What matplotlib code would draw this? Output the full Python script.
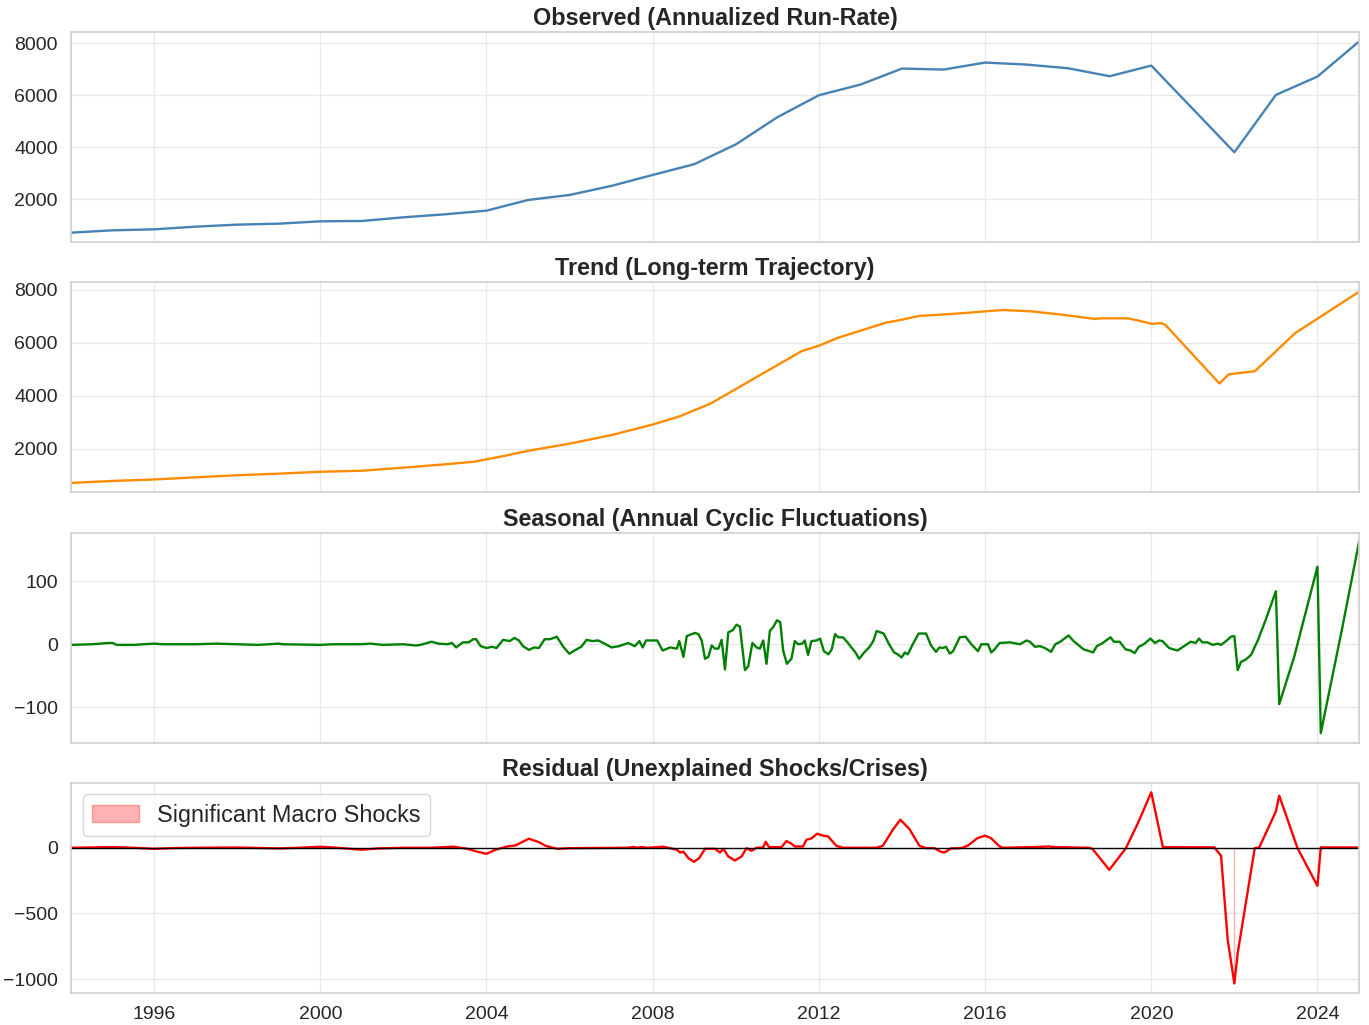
import matplotlib
matplotlib.use('Agg')
import matplotlib.pyplot as plt
import seaborn as sns
import numpy as np
from matplotlib.ticker import MultipleLocator, FuncFormatter

# ---------------- data (decimal years) ----------------
obs_years = [1994, 1995, 1996, 1997, 1998, 1999, 2000, 2001, 2002, 2003, 2004, 2005,
             2006, 2007, 2008, 2009, 2010, 2011, 2012, 2013, 2014, 2015, 2016, 2017,
             2018, 2019, 2020, 2021, 2022, 2023, 2024, 2025]
obs_values = [718, 808, 846, 949, 1026, 1064, 1154, 1167, 1308, 1423, 1564, 1974,
              2167, 2513, 2936, 3350, 4110, 5154, 6000, 6410, 7026, 6987, 7256, 7179,
              7038, 6731, 7141, 5475, 3808, 6013, 6718, 8064]

trend_years = [1994.0, 1995.0, 1996.0, 1997.0, 1998.0, 1999.0, 2000.0, 2001.0, 2002.0,
               2003.0, 2003.7, 2004.4, 2005.0, 2006.0, 2007.0, 2008.0, 2008.65, 2009.39,
               2011.59, 2012.0, 2012.46, 2013.62, 2013.89, 2014.41, 2015.42, 2016.0,
               2016.42, 2017.11, 2017.85, 2018.65, 2018.8, 2019.44, 2019.76, 2020.02,
               2020.23, 2020.34, 2021.64, 2021.87, 2022.49, 2022.62, 2023.46, 2025.0]
trend_values = [710, 785, 840, 920, 1000, 1060, 1130, 1170, 1285,
                1410, 1510, 1720, 1920, 2190, 2510, 2910, 3220, 3698,
                5681, 5880, 6180, 6753, 6828, 7002, 7102, 7177,
                7227, 7177, 7052, 6890, 6915, 6915, 6803, 6703,
                6740, 6666, 4459, 4808, 4920, 5107, 6354, 7913]

seas_years = [1994.0, 1994.5, 1994.9, 1995.0, 1995.1, 1995.5, 1996.0, 1996.2, 1997.0, 1997.5,
              1998.0, 1998.5, 1999.0, 1999.1, 2000.0, 2000.3, 2001.0, 2001.2, 2001.5, 2002.0,
              2002.3, 2002.41, 2002.68, 2002.84, 2003.06, 2003.17, 2003.27, 2003.43, 2003.57,
              2003.68, 2003.75, 2003.86, 2004.0, 2004.13, 2004.24, 2004.4, 2004.56, 2004.67,
              2004.78, 2004.88, 2005.02, 2005.15, 2005.26, 2005.4, 2005.53, 2005.69, 2005.85,
              2005.99, 2006.17, 2006.28, 2006.41, 2006.55, 2006.69, 2006.84, 2007.01, 2007.19,
              2007.41, 2007.57, 2007.68, 2007.76, 2007.84, 2008.11, 2008.24, 2008.42, 2008.58,
              2008.64, 2008.74, 2008.82, 2009.02, 2009.1, 2009.18, 2009.26, 2009.34, 2009.42,
              2009.5, 2009.58, 2009.66, 2009.74, 2009.82, 2009.92, 2010.02, 2010.1, 2010.22,
              2010.3, 2010.4, 2010.5, 2010.58, 2010.66, 2010.74, 2010.82, 2010.91, 2010.99,
              2011.07, 2011.14, 2011.23, 2011.34, 2011.42, 2011.5, 2011.6, 2011.66, 2011.74,
              2011.82, 2011.94, 2012.03, 2012.12, 2012.23, 2012.31, 2012.39, 2012.47, 2012.58,
              2012.69, 2012.77, 2012.87, 2012.97, 2013.09, 2013.21, 2013.31, 2013.39, 2013.56,
              2013.69, 2013.81, 2013.9, 2013.99, 2014.07, 2014.14, 2014.26, 2014.4, 2014.58,
              2014.7, 2014.82, 2014.9, 2014.98, 2015.06, 2015.15, 2015.23, 2015.39, 2015.53,
              2015.67, 2015.83, 2015.91, 2016.07, 2016.15, 2016.23, 2016.35, 2016.6, 2016.84,
              2017.0, 2017.08, 2017.2, 2017.32, 2017.44, 2017.59, 2017.69, 2017.81, 2018.01,
              2018.13, 2018.37, 2018.6, 2018.69, 2018.81, 2019.02, 2019.1, 2019.24, 2019.38,
              2019.5, 2019.6, 2019.7, 2019.82, 2019.98, 2020.09, 2020.19, 2020.27, 2020.43,
              2020.63, 2020.79, 2020.95, 2021.07, 2021.15, 2021.23, 2021.35, 2021.48, 2021.6,
              2021.68, 2021.8, 2021.92, 2022.0, 2022.08, 2022.16, 2022.28, 2022.4, 2022.57,
              2022.75, 2023.0, 2023.08, 2023.44, 2024.0, 2024.08, 2024.6, 2025.0]
seas_values = [-1, 0, 2, 2, -1, -1, 1, 0, 0, 1,
               0, -1, 1, 0, -1, 0, 0, 1, -1, 0,
               -2, -1, 4, 1, 0, 2, -5, 3, 3,
               8, 8, -3, -6, -4, -6, 7, 5, 10,
               6, -3, -9, -5, -6, 8, 8, 12, -4,
               -15, -8, -4, 7, 5, 6, 1, -5, -3,
               2, -3, 5, -5, 6, 6, -10, -5, -7,
               5, -20, 13, 18, 16, 6, -23, -20, -2,
               -7, -7, 7, -40, 19, 22, 31, 28, -41,
               -35, 2, -5, -7, 6, -31, 21, 28, 38,
               35, -10, -31, -23, 5, 0, 1, 6, -17,
               5, 6, 9, -11, -16, -8, 16, 11, 11,
               3, -4, -12, -23, -13, -5, 5, 21, 17,
               0, -13, -16, -21, -13, -16, 0, 17, 17,
               -2, -12, -5, -6, -4, -15, -11, 11, 12,
               0, -11, 0, 0, -13, -8, 2, 3, 0,
               6, 4, -4, -3, -6, -12, 0, 4, 14,
               5, -8, -13, -3, 1, 11, 4, 4, -8,
               -10, -14, -4, 0, 9, 2, 6, 5, -6,
               -10, -3, 4, 2, 9, 3, 3, -1, 1,
               -1, 5, 12, 13, -41, -28, -24, -17, 7,
               38, 84, -95, -20, 123, -141, 27, 162]

resid_years = [1994.0, 1995.0, 1995.5, 1996.0, 1996.5, 1997.0, 1998.0, 1999.0, 1999.5, 2000.0,
               2000.4, 2001.0, 2001.4, 2002.0, 2002.66, 2003.22, 2003.54, 2003.62, 2003.78,
               2004.0, 2004.22, 2004.5, 2004.7, 2005.02, 2005.26, 2005.42, 2005.7, 2006.02,
               2007.4, 2007.54, 2007.62, 2007.74, 2007.86, 2008.26, 2008.58, 2008.66, 2008.74,
               2008.86, 2008.99, 2009.12, 2009.26, 2009.5, 2009.62, 2009.7, 2009.82, 2009.98,
               2010.14, 2010.26, 2010.38, 2010.5, 2010.66, 2010.72, 2010.8, 2011.1, 2011.22,
               2011.34, 2011.42, 2011.62, 2011.7, 2011.82, 2011.96, 2012.1, 2012.22, 2012.42,
               2012.58, 2013.38, 2013.54, 2013.78, 2013.96, 2014.18, 2014.42, 2014.58, 2014.78,
               2014.94, 2015.02, 2015.18, 2015.42, 2015.58, 2015.82, 2016.0, 2016.14, 2016.35,
               2016.43, 2017.15, 2017.55, 2017.63, 2018.51, 2018.59, 2018.99, 2019.39, 2019.68,
               2020.0, 2020.28, 2020.52, 2021.52, 2021.68, 2021.84, 2022.0, 2022.08, 2022.49,
               2022.6, 2023.0, 2023.08, 2023.45, 2023.52, 2024.0, 2024.08, 2025.0]
resid_values = [0, 5, 0, -8, -2, 0, 2, -5, 0, 8,
                0, -15, -5, 0, 0, 8, -8, -15, -30,
                -46, -15, 10, 18, 69, 43, 15, -8, -3,
                0, 6, 0, 6, 0, 8, -15, -36, -30,
                -79, -107, -79, -8, -8, -36, -8, -66, -97,
                -66, -3, -23, 0, 3, 46, 5, 5, 51,
                31, 10, 10, 61, 71, 107, 92, 87, 15,
                0, 0, 15, 137, 214, 142, 15, -3, -3,
                -31, -36, -5, -3, 15, 74, 92, 74, 10,
                0, 5, 10, 5, 0, -10, -168, -3, 188,
                422, 5, 4, 3, -61, -702, -1033, -804, -3,
                3, 277, 397, 61, -3, -290, 3, 2]

titles = ['Observed (Annualized Run-Rate)', 'Trend (Long-term Trajectory)',
          'Seasonal (Annual Cyclic Fluctuations)', 'Residual (Unexplained Shocks/Crises)']
shock_label = 'Significant Macro Shocks'
shock_threshold = -900

# ---------------- style ----------------
sns.set_theme(style='whitegrid')
plt.rcParams['font.family'] = ['Liberation Sans', 'DejaVu Sans']
plt.rcParams['axes.edgecolor'] = '#cfcfcf'
plt.rcParams['axes.linewidth'] = 1.2

fig, axes = plt.subplots(4, 1, figsize=(13.69, 10.25), dpi=100, sharex=True)
fig.subplots_adjust(left=71 / 1369, right=1359 / 1369, top=1 - 32 / 1025,
                    bottom=1 - 993 / 1025, hspace=40 / 210)

axes[0].plot(obs_years, obs_values, color='steelblue', lw=1.7)
axes[1].plot(trend_years, trend_values, color='darkorange', lw=1.7)
axes[2].plot(seas_years, seas_values, color='green', lw=1.7)

rx = np.array(resid_years)
ry = np.array(resid_values)
axes[3].plot(rx, ry, color='red', lw=1.7)
axes[3].fill_between(rx, ry, 0, where=ry < shock_threshold, color='red', alpha=0.3,
                     label=shock_label)
axes[3].axhline(0, color='black', lw=1.0)
axes[3].legend(loc='upper left', fontsize=16.8, frameon=True, framealpha=0.8)

locators = [2000, 2000, 100, 500]
for ax, t, step in zip(axes, titles, locators):
    ax.set_title(t, fontsize=16.8, fontweight='bold', color='#262626', pad=5)
    ax.yaxis.set_major_locator(MultipleLocator(step))
    ax.tick_params(axis='both', labelsize=14, colors='#262626')
    ax.grid(True, color='#e8e8e8', lw=0.9)
    ax.set_xlim(1994.0, 2025.0)

axes[3].xaxis.set_major_locator(MultipleLocator(4))
axes[3].xaxis.set_major_formatter(FuncFormatter(lambda v, p: f'{int(round(v))}'))

fig.savefig('out.png', dpi=100)
